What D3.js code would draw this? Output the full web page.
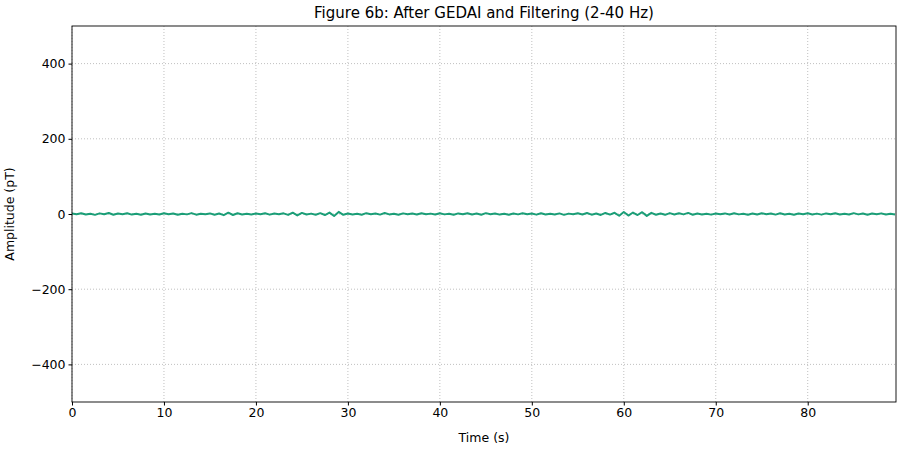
<!DOCTYPE html>
<html>
<head>
<meta charset="utf-8">
<script src="https://cdn.jsdelivr.net/npm/d3@7"></script>
<style>
  body { margin: 0; background: #fff; }
  text { font-family: "DejaVu Sans", sans-serif; }
</style>
</head>
<body>
<div id="chart"></div>
<script>
var svgWidth = 900;
var svgHeight = 450;

var margin = { top: 26, right: 4, bottom: 48, left: 72 };
const width = svgWidth - margin.left - margin.right;
const height = svgHeight - margin.top - margin.bottom;

const sampleStep = 0.5;
const amplitude = [
  1.2,-0.8,2.1,-1.5,0.9,-2.3,1.7,-0.6,2.8,-1.9,1.1,-0.4,2.2,-1.6,0.7,-2.0,1.5,-1.1,0.8,-1.4,
  1.9,-0.7,1.3,-2.2,0.6,-1.0,2.4,-1.8,0.9,-0.5,1.6,-2.1,1.2,-3.0,3.4,-2.6,2.0,-1.3,0.7,-1.2,
  1.4,-0.9,2.0,-1.7,1.1,-0.6,1.8,-2.4,3.6,-3.9,2.9,-1.5,1.0,-1.8,2.3,-2.7,3.8,-5.2,5.6,-2.1,
  1.5,-1.2,0.8,-1.9,2.2,-0.7,1.3,-1.6,2.5,-1.1,0.9,-2.0,1.7,-0.8,1.4,-1.3,2.1,-0.6,1.0,-1.5,
  1.8,-1.0,0.7,-2.2,1.6,-0.9,2.0,-1.4,1.2,-1.8,2.3,-0.8,1.1,-1.6,0.9,-2.1,1.5,-1.0,1.9,-0.7,
  1.3,-1.7,2.2,-1.1,0.8,-1.5,1.6,-2.3,1.0,-0.6,1.9,-1.2,2.6,-1.8,1.4,-2.5,2.8,-1.6,3.2,-4.6,
  5.4,-4.1,3.9,-2.7,4.8,-5.0,3.1,-1.9,1.5,-2.2,2.4,-1.3,1.8,-1.0,2.9,-2.0,1.2,-1.4,0.9,-1.7,
  1.1,-0.8,1.6,-1.3,2.0,-1.0,0.7,-1.9,1.5,-1.2,2.2,-0.9,1.3,-1.6,1.8,-1.1,0.8,-2.0,1.4,-0.7,
  2.1,-1.4,1.0,-1.7,1.6,-0.9,1.9,-1.2,0.8,-1.5,2.3,-1.0,1.4,-1.8,1.1,-0.6,1.7,-1.3,0.9,-1.1
];
const xTicks = [0, 10, 20, 30, 40, 50, 60, 70, 80];
const yTicks = [-400, -200, 0, 200, 400];

const svg = d3.select("#chart").append("svg")
  .attr("width", svgWidth)
  .attr("height", svgHeight);

const chartGroup = svg.append("g")
  .attr("transform", `translate(${margin.left}, ${margin.top})`);

const x = d3.scaleLinear().domain([0, 89.6]).range([0, width]);
const y = d3.scaleLinear().domain([-500, 500]).range([height, 0]);

// grid
chartGroup.append("g").selectAll("line").data(xTicks).enter().append("line")
  .attr("x1", d => x(d)).attr("x2", d => x(d))
  .attr("y1", 0).attr("y2", height)
  .attr("stroke", "#b0b0b0").attr("stroke-width", 0.8).attr("stroke-dasharray", "1,2");
chartGroup.append("g").selectAll("line").data(yTicks).enter().append("line")
  .attr("x1", 0).attr("x2", width)
  .attr("y1", d => y(d)).attr("y2", d => y(d))
  .attr("stroke", "#b0b0b0").attr("stroke-width", 0.8).attr("stroke-dasharray", "1,2");

// signal
const line = d3.line()
  .x((d, i) => x(i * sampleStep))
  .y(d => y(d));
chartGroup.append("path")
  .datum(amplitude)
  .attr("fill", "none")
  .attr("stroke", "#1b9e77")
  .attr("stroke-width", 2)
  .attr("stroke-linejoin", "round")
  .attr("d", line);

// axes
const xAxis = chartGroup.append("g")
  .attr("transform", `translate(0, ${height})`)
  .call(d3.axisBottom(x).tickValues(xTicks).tickSize(3.5).tickPadding(3));
const yAxis = chartGroup.append("g")
  .call(d3.axisLeft(y).tickValues(yTicks).tickSize(3.5).tickPadding(3)
    .tickFormat(d => d < 0 ? "\u2212" + Math.abs(d) : d));
[xAxis, yAxis].forEach(a => {
  a.selectAll("text").attr("font-size", 12.5).attr("fill", "#000").style("font-family", "DejaVu Sans");
  a.select(".domain").remove();
});

chartGroup.append("rect")
  .attr("width", width).attr("height", height)
  .attr("fill", "none").attr("stroke", "#000").attr("stroke-width", 0.9);

// labels
chartGroup.append("text")
  .attr("x", width / 2).attr("y", -8)
  .attr("text-anchor", "middle").attr("font-size", 15)
  .text("Figure 6b: After GEDAI and Filtering (2-40 Hz)");
chartGroup.append("text")
  .attr("x", width / 2).attr("y", height + 40)
  .attr("text-anchor", "middle").attr("font-size", 12.5)
  .text("Time (s)");
chartGroup.append("text")
  .attr("transform", "rotate(-90)")
  .attr("x", -height / 2).attr("y", -58)
  .attr("text-anchor", "middle").attr("font-size", 12.5)
  .text("Amplitude (pT)");
</script>
</body>
</html>
